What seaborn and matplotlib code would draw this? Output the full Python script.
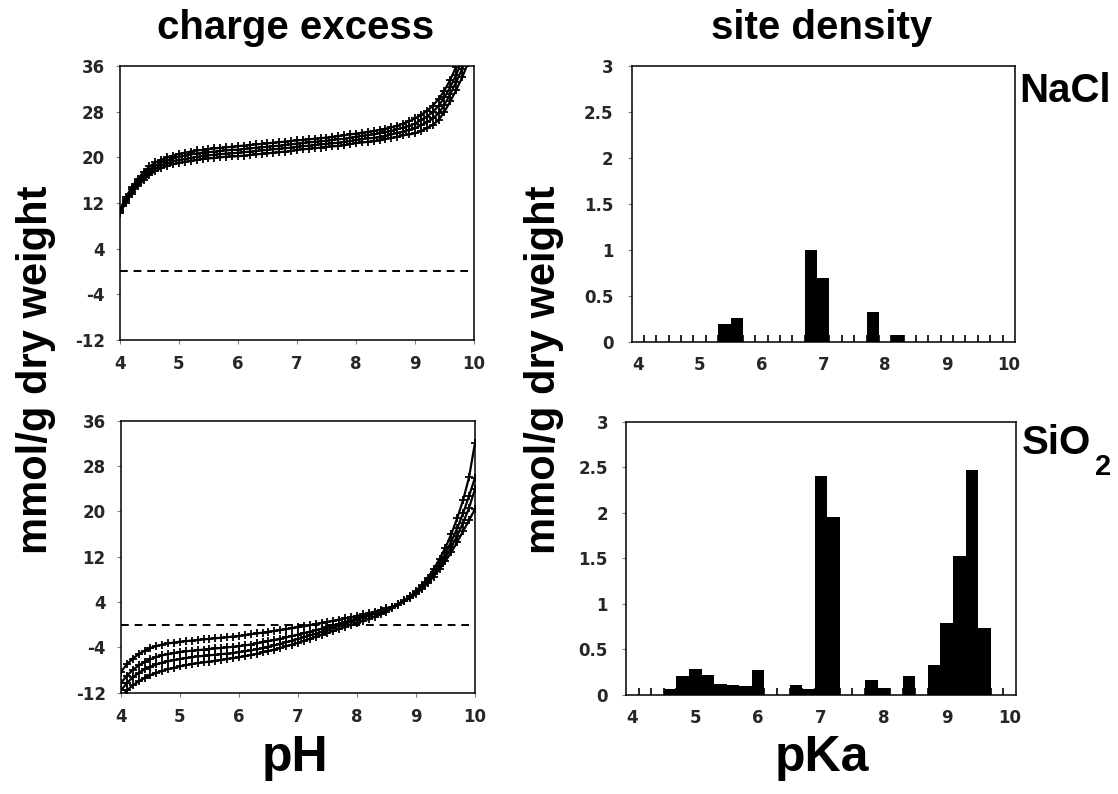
import numpy as np
import pandas as pd
import matplotlib
matplotlib.use("Agg")
import matplotlib.pyplot as plt
import seaborn as sns

# pH grid of the titration curves
ph = [4.0, 4.1, 4.2, 4.3, 4.4, 4.5, 4.6, 4.7, 4.8, 4.9,
      5.0, 5.1, 5.2, 5.3, 5.4, 5.5, 5.6, 5.7, 5.8, 5.9,
      6.0, 6.1, 6.2, 6.3, 6.4, 6.5, 6.6, 6.7, 6.8, 6.9,
      7.0, 7.1, 7.2, 7.3, 7.4, 7.5, 7.6, 7.7, 7.8, 7.9,
      8.0, 8.1, 8.2, 8.3, 8.4, 8.5, 8.6, 8.7, 8.8, 8.9,
      9.0, 9.1, 9.2, 9.3, 9.4, 9.5, 9.6, 9.7, 9.8, 9.9, 10.0]

# charge excess, NaCl (mmol/g dry weight)
nacl_1 = [10.8, 13.0, 14.8, 16.2, 17.4, 18.4, 19.1, 19.6, 20.0, 20.3,
          20.6, 20.8, 21.0, 21.2, 21.3, 21.45, 21.55, 21.65, 21.75, 21.85,
          21.95, 22.05, 22.15, 22.25, 22.35, 22.45, 22.55, 22.65, 22.75, 22.85,
          22.95, 23.05, 23.15, 23.25, 23.35, 23.45, 23.6, 23.7, 23.85, 24.0,
          24.15, 24.3, 24.45, 24.6, 24.8, 25.0, 25.25, 25.55, 25.9, 26.3,
          26.8, 27.4, 28.1, 29.0, 30.2, 31.7, 33.6, 35.9, 38.5, 41.5, 45.0]
nacl_2 = [10.6, 12.7, 14.4, 15.8, 16.9, 17.9, 18.6, 19.1, 19.5, 19.8,
          20.1, 20.3, 20.5, 20.65, 20.8, 20.9, 21.0, 21.1, 21.2, 21.3,
          21.35, 21.45, 21.55, 21.65, 21.75, 21.85, 21.95, 22.05, 22.15, 22.25,
          22.4, 22.5, 22.6, 22.7, 22.8, 22.9, 23.05, 23.15, 23.25, 23.45,
          23.6, 23.75, 23.9, 24.0, 24.2, 24.4, 24.65, 24.9, 25.2, 25.5,
          25.9, 26.5, 27.1, 27.9, 29.0, 30.5, 32.3, 34.5, 37.0, 39.8, 43.3]
nacl_3 = [10.5, 12.3, 14.0, 15.3, 16.5, 17.4, 18.1, 18.6, 19.0, 19.3,
          19.5, 19.7, 19.9, 20.1, 20.2, 20.35, 20.45, 20.55, 20.65, 20.7,
          20.8, 20.9, 21.0, 21.1, 21.2, 21.3, 21.4, 21.5, 21.6, 21.7,
          21.85, 21.95, 22.05, 22.15, 22.25, 22.35, 22.45, 22.55, 22.7, 22.85,
          23.05, 23.15, 23.3, 23.4, 23.55, 23.8, 24.0, 24.25, 24.5, 24.8,
          25.1, 25.6, 26.1, 26.8, 27.7, 29.2, 31.1, 33.2, 35.5, 38.2, 41.3]
nacl_4 = [10.3, 12.0, 13.6, 14.9, 16.0, 16.9, 17.6, 18.1, 18.5, 18.8,
          19.0, 19.2, 19.4, 19.55, 19.7, 19.8, 19.9, 20.0, 20.1, 20.15,
          20.2, 20.3, 20.4, 20.5, 20.6, 20.7, 20.8, 20.9, 21.0, 21.1,
          21.3, 21.4, 21.5, 21.6, 21.7, 21.8, 21.9, 22.0, 22.1, 22.3,
          22.5, 22.6, 22.7, 22.8, 22.95, 23.2, 23.4, 23.6, 23.85, 24.0,
          24.2, 24.6, 25.1, 25.7, 26.5, 28.0, 29.8, 31.8, 34.0, 36.5, 39.5]

# charge excess, SiO2
sio2_1 = [-8.3, -7.0, -6.0, -5.2, -4.6, -4.1, -3.8, -3.5, -3.3, -3.15,
          -3.0, -2.9, -2.8, -2.7, -2.6, -2.5, -2.4, -2.3, -2.2, -2.1,
          -2.0, -1.85, -1.7, -1.55, -1.4, -1.25, -1.1, -0.95, -0.8, -0.6,
          -0.45, -0.3, -0.1, 0.1, 0.3, 0.5, 0.7, 0.9, 1.1, 1.3,
          1.55, 1.8, 2.05, 2.3, 2.6, 2.9, 3.2, 3.6, 4.1, 4.7,
          5.4, 6.3, 7.3, 8.5, 9.8, 11.2, 12.8, 14.6, 16.5, 18.4, 20.4]
sio2_2 = [-10.3, -9.0, -8.0, -7.2, -6.6, -6.1, -5.7, -5.4, -5.2, -5.0,
          -4.85, -4.7, -4.6, -4.5, -4.4, -4.3, -4.2, -4.1, -4.0, -3.9,
          -3.8, -3.65, -3.5, -3.3, -3.1, -2.9, -2.7, -2.5, -2.25, -2.0,
          -1.75, -1.5, -1.25, -1.0, -0.7, -0.4, -0.1, 0.2, 0.5, 0.8,
          1.1, 1.4, 1.7, 2.0, 2.35, 2.7, 3.1, 3.6, 4.15, 4.8,
          5.6, 6.5, 7.6, 8.9, 10.3, 11.9, 13.7, 15.7, 18.0, 20.6, 23.9]
sio2_3 = [-11.6, -10.3, -9.3, -8.5, -7.9, -7.4, -7.0, -6.7, -6.45, -6.25,
          -6.05, -5.9, -5.75, -5.6, -5.5, -5.4, -5.3, -5.2, -5.1, -5.0,
          -4.85, -4.7, -4.55, -4.35, -4.15, -3.9, -3.65, -3.4, -3.1, -2.8,
          -2.5, -2.2, -1.9, -1.6, -1.25, -0.9, -0.55, -0.2, 0.15, 0.5,
          0.85, 1.2, 1.55, 1.9, 2.3, 2.7, 3.15, 3.7, 4.3, 5.0,
          5.8, 6.8, 7.9, 9.3, 10.8, 12.6, 14.7, 17.0, 19.7, 22.7, 25.9]
sio2_4 = [-12.8, -11.6, -10.7, -10.0, -9.4, -8.9, -8.5, -8.15, -7.85, -7.6,
          -7.35, -7.15, -6.95, -6.8, -6.65, -6.5, -6.35, -6.2, -6.05, -5.9,
          -5.75, -5.55, -5.35, -5.15, -4.9, -4.65, -4.4, -4.1, -3.8, -3.5,
          -3.2, -2.85, -2.5, -2.15, -1.8, -1.45, -1.1, -0.75, -0.4, -0.05,
          0.3, 0.65, 1.0, 1.4, 1.8, 2.3, 2.9, 3.5, 4.2, 5.0,
          5.9, 7.0, 8.3, 9.8, 11.6, 13.6, 16.0, 18.8, 22.0, 26.0, 32.0]

# site density histograms, pKa bins of 0.2
pka = [4.0, 4.2, 4.4, 4.6, 4.8, 5.0, 5.2, 5.4, 5.6, 5.8,
       6.0, 6.2, 6.4, 6.6, 6.8, 7.0, 7.2, 7.4, 7.6, 7.8,
       8.0, 8.2, 8.4, 8.6, 8.8, 9.0, 9.2, 9.4, 9.6, 9.8, 10.0]
nacl_sites = [0, 0, 0, 0, 0, 0, 0, 0.2, 0.26, 0,
              0, 0, 0, 0, 1.0, 0.69, 0, 0, 0, 0.33,
              0, 0.08, 0, 0, 0, 0, 0, 0, 0, 0, 0]
sio2_sites = [0, 0, 0, 0.07, 0.21, 0.29, 0.22, 0.12, 0.11, 0.10,
              0.27, 0, 0, 0.11, 0.07, 2.40, 1.95, 0, 0, 0.16,
              0.08, 0, 0.21, 0, 0.33, 0.79, 1.53, 2.47, 0.73, 0, 0]

sns.set_theme(style="white")
plt.rcParams["font.family"] = ["Liberation Sans", "DejaVu Sans"]

fig = plt.figure(figsize=(11.18, 7.94), dpi=100)
ax_tl = fig.add_axes([0.1073, 0.5718, 0.3166, 0.3451])
ax_bl = fig.add_axes([0.1082, 0.1276, 0.3166, 0.3426])
ax_tr = fig.add_axes([0.5650, 0.5693, 0.3428, 0.3476])
ax_br = fig.add_axes([0.5600, 0.1247, 0.3486, 0.3442])

tick_font = {"family": "DejaVu Sans", "weight": "bold", "size": 12}


def curves_panel(ax, series):
    df = pd.DataFrame({"pH": ph * len(series),
                       "charge": sum(series, []),
                       "curve": sum([[i] * len(ph) for i in range(len(series))], [])})
    sns.lineplot(data=df, x="pH", y="charge", units="curve", estimator=None,
                 color="black", lw=1.6, marker="+", markersize=6,
                 markeredgewidth=1.3, markeredgecolor="black",
                 ax=ax, legend=False)
    ax.axhline(0, xmin=0, xmax=0.985, color="black", ls=(0, (4, 3)), lw=1.4)
    ax.set_xlim(4, 10)
    ax.set_ylim(-12, 36)
    ax.set_xticks([4, 5, 6, 7, 8, 9, 10])
    ax.set_yticks([-12, -4, 4, 12, 20, 28, 36])
    ax.set_xticklabels(["4", "5", "6", "7", "8", "9", "10"], fontdict=tick_font)
    ax.set_yticklabels(["-12", "-4", "4", "12", "20", "28", "36"], fontdict=tick_font)
    ax.tick_params(axis="both", which="major", direction="out", length=3,
                   width=0.8, color="gray", pad=8, bottom=True, left=True)
    ax.set_xlabel("")
    ax.set_ylabel("")


def bars_panel(ax, values):
    df = pd.DataFrame({"pKa": pka, "sites": values})
    sns.barplot(data=df, x="pKa", y="sites", color="black", width=1.0,
                saturation=1, linewidth=0, errorbar=None, ax=ax)
    ax.set_xlim(-0.5, len(pka) - 0.5)
    ax.set_ylim(0, 3)
    ax.set_xticks([0, 5, 10, 15, 20, 25, 30])
    ax.set_xticklabels(["4", "5", "6", "7", "8", "9", "10"], fontdict=tick_font)
    ax.set_xticks(np.arange(0.5, len(pka) - 1, 1), minor=True)
    ax.set_yticks([0, 0.5, 1, 1.5, 2, 2.5, 3])
    ax.set_yticklabels(["0", "0.5", "1", "1.5", "2", "2.5", "3"], fontdict=tick_font)
    ax.tick_params(axis="x", which="major", length=0, pad=10, bottom=True)
    ax.tick_params(axis="x", which="minor", direction="in", length=5, width=1.2,
                   color="black", bottom=True)
    ax.tick_params(axis="y", which="major", direction="out", length=3,
                   width=0.8, color="gray", pad=10, left=True)
    ax.set_xlabel("")
    ax.set_ylabel("")


curves_panel(ax_tl, [nacl_1, nacl_2, nacl_3, nacl_4])
curves_panel(ax_bl, [sio2_1, sio2_2, sio2_3, sio2_4])
bars_panel(ax_tr, nacl_sites)
bars_panel(ax_br, sio2_sites)

for ax in [ax_tl, ax_bl, ax_tr, ax_br]:
    for s in ax.spines.values():
        s.set_color("black")
        s.set_linewidth(1.1)

big = {"weight": "bold", "color": "black"}
fig.text(0.264, 0.965, "charge excess", ha="center", va="center", fontsize=29, **big)
fig.text(0.735, 0.965, "site density", ha="center", va="center", fontsize=29, **big)
fig.text(0.264, 0.045, "pH", ha="center", va="center", fontsize=36, **big)
fig.text(0.735, 0.045, "pKa", ha="center", va="center", fontsize=36, **big)
fig.text(0.032, 0.534, "mmol/g dry weight", ha="center", va="center",
         rotation=90, fontsize=30, **big)
fig.text(0.487, 0.534, "mmol/g dry weight", ha="center", va="center",
         rotation=90, fontsize=30, **big)
fig.text(0.912, 0.885, "NaCl", ha="left", va="center", fontsize=29, **big)
fig.text(0.914, 0.442, "SiO", ha="left", va="center", fontsize=29, **big)
fig.text(0.979, 0.412, "2", ha="left", va="center", fontsize=21, **big)

fig.savefig("out.png", dpi=100, facecolor="white")
